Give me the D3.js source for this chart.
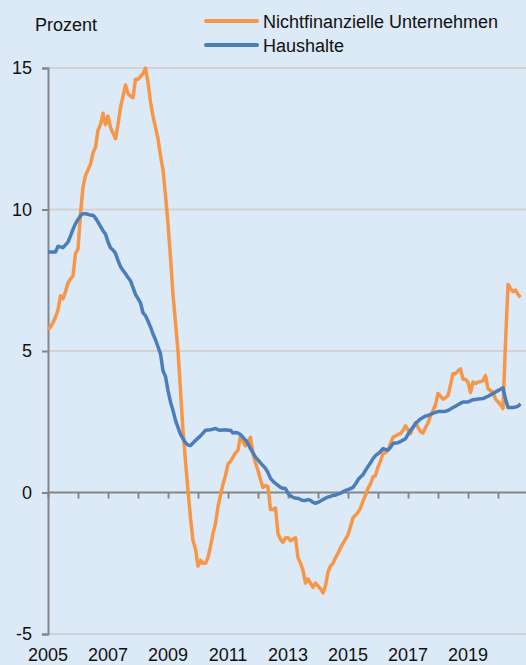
<!DOCTYPE html>
<html>
<head>
<meta charset="utf-8">
<script src="https://cdn.jsdelivr.net/npm/d3@7"></script>
<style>
  body { margin: 0; background: #dce9f7; }
  text { font-family: "Liberation Sans", Arial, sans-serif; fill: #111; }
</style>
</head>
<body>
<div id="chart"></div>
<script>
// monthly values, Jan 2005 onwards
const startYear = 2005;
const unternehmen = [
  5.75, 5.85, 6.0, 6.2, 6.45, 6.95, 6.85, 7.1, 7.4, 7.55, 7.65, 8.45,
  8.6, 9.85, 10.8, 11.2, 11.4, 11.6, 12.0, 12.2, 12.8, 13.0, 13.4, 13.0,
  13.3, 12.9, 12.7, 12.5, 13.0, 13.6, 14.0, 14.4, 14.1, 14.0, 13.95, 14.6,
  14.6, 14.7, 14.8, 15.0, 14.5, 13.8, 13.3, 12.9, 12.5, 11.9, 11.4, 10.5,
  9.5, 8.3, 7.0, 6.0, 5.0, 3.6, 2.2, 1.1, 0.07, -0.9, -1.7, -2.0,
  -2.6, -2.4, -2.5, -2.5, -2.3, -1.9, -1.45, -1.1, -0.5, -0.1, 0.3, 0.6,
  1.0, 1.1, 1.25, 1.4, 1.5, 2.0, 1.8, 1.65, 1.8, 1.95, 1.37, 1.05,
  0.78, 0.45, 0.18, 0.25, 0.2, -0.6, -0.6, -0.55, -1.45, -1.65, -1.76, -1.6,
  -1.6, -1.7, -1.65, -1.6, -2.3, -2.5, -2.75, -3.2, -3.05, -3.2, -3.35, -3.2,
  -3.3, -3.4, -3.55, -3.3, -2.8, -2.6, -2.5, -2.3, -2.15, -1.95, -1.8, -1.65,
  -1.5, -1.2, -0.9, -0.8, -0.7, -0.55, -0.3, -0.1, 0.15, 0.3, 0.55, 0.6,
  0.9, 1.1, 1.4, 1.4, 1.5, 1.73, 1.95, 2.0, 2.05, 2.08, 2.2, 2.36,
  2.2, 2.08, 2.3, 2.47, 2.3, 2.15, 2.1, 2.3, 2.45, 2.7, 2.9, 3.1,
  3.5, 3.4, 3.3, 3.35, 3.42, 3.8, 4.2, 4.2, 4.3, 4.37, 4.0, 4.0,
  3.9, 3.53, 3.9, 3.85, 3.9, 3.92, 3.95, 4.13, 3.67, 3.6, 3.55, 3.3,
  3.2, 3.1, 2.97, 5.3, 7.35, 7.2, 7.1, 7.15, 7.0, 6.9
];
const haushalte = [
  8.5, 8.5, 8.5, 8.5, 8.7, 8.68, 8.65, 8.75, 8.85, 9.07, 9.3, 9.5,
  9.65, 9.78, 9.85, 9.85, 9.83, 9.8, 9.8, 9.7, 9.55, 9.4, 9.25, 9.13,
  8.85, 8.65, 8.57, 8.45, 8.2, 7.98, 7.85, 7.73, 7.6, 7.48, 7.24, 7.0,
  6.85, 6.7, 6.35, 6.25, 6.05, 5.85, 5.6, 5.4, 5.15, 4.9, 4.3, 4.1,
  3.6, 3.2, 2.9, 2.55, 2.3, 2.05, 1.9, 1.76, 1.68, 1.66, 1.75, 1.84,
  1.92, 2.0, 2.1, 2.2, 2.21, 2.22, 2.24, 2.26, 2.22, 2.2, 2.21, 2.22,
  2.2, 2.2, 2.1, 2.12, 2.1, 2.05, 1.95, 1.85, 1.73, 1.55, 1.4, 1.25,
  1.15, 1.05, 0.95, 0.85, 0.7, 0.5, 0.4, 0.32, 0.25, 0.18, 0.15, 0.14,
  -0.03, -0.12, -0.17, -0.2, -0.2, -0.25, -0.28, -0.28, -0.25, -0.28, -0.35, -0.38,
  -0.35, -0.3, -0.25, -0.2, -0.16, -0.14, -0.1, -0.1, -0.05, -0.03, 0.03, 0.07,
  0.1, 0.14, 0.18, 0.3, 0.45, 0.55, 0.63, 0.78, 0.92, 1.05, 1.2, 1.3,
  1.37, 1.45, 1.55, 1.52, 1.5, 1.6, 1.73, 1.75, 1.76, 1.8, 1.85, 1.9,
  2.05, 2.2, 2.3, 2.43, 2.52, 2.6, 2.65, 2.7, 2.72, 2.76, 2.8, 2.83,
  2.86, 2.86, 2.86, 2.87, 2.9, 2.95, 3.0, 3.05, 3.1, 3.15, 3.2, 3.2,
  3.2, 3.24, 3.28, 3.29, 3.3, 3.31, 3.32, 3.36, 3.4, 3.45, 3.5, 3.55,
  3.6, 3.65, 3.7, 3.3, 3.0, 3.0, 3.0, 3.02, 3.05, 3.13
];
const yTicks = [-5, 0, 5, 10, 15];
const yearTicks = d3.range(2005, 2021);
const yearLabels = [2005, 2007, 2009, 2011, 2013, 2015, 2017, 2019];
const seriesNames = ["Nichtfinanzielle Unternehmen", "Haushalte"];

const width = 526, height = 665;
const margin = { top: 68, right: 526, bottom: 634, left: 48 };

const svg = d3.select('#chart')
  .append('svg')
    .attr('width', width)
    .attr('height', height);

svg.append('rect').attr('width', width).attr('height', height).attr('fill', '#dce9f7');

const x = d3.scaleLinear()
    .domain([2005, 2021])
    .range([margin.left, margin.left + 16 * 30]);

const y = d3.scaleLinear()
    .domain([-5, 15])
    .range([margin.bottom, margin.top]);

const color = d3.scaleOrdinal()
    .domain(seriesNames)
    .range(["#f79646", "#4a7ebb"]);

// gridlines
svg.append('g')
  .selectAll('line')
  .data(yTicks.filter(d => d !== 0))
  .join('line')
    .attr('x1', margin.left).attr('x2', margin.right)
    .attr('y1', d => y(d)).attr('y2', d => y(d))
    .attr('stroke', '#d3d3d3')
    .attr('stroke-width', 2);

// y axis (hyphen minus as in the original)
const yAxis = d3.axisLeft(y).tickValues(yTicks).tickSize(6).tickPadding(10)
    .tickFormat(d => String(d));
const gy = svg.append('g')
    .attr('transform', `translate(${margin.left},0)`)
    .call(yAxis);
gy.select('.domain').attr('stroke', '#868686').attr('stroke-width', 2);
gy.selectAll('.tick line').attr('stroke', '#868686').attr('stroke-width', 2);
gy.selectAll('.tick text').style('font-size', '18px').attr('fill', '#111');

// zero line with year ticks
const xAxis = d3.axisBottom(x).tickValues(yearTicks).tickSize(6).tickFormat('');
const gx = svg.append('g')
    .attr('transform', `translate(0,${y(0)})`)
    .call(xAxis);
gx.select('.domain').attr('d', `M${margin.left},0H${margin.right}`).attr('stroke', '#868686').attr('stroke-width', 2);
gx.selectAll('.tick line').attr('stroke', '#868686').attr('stroke-width', 2);

// year labels at the bottom
svg.append('g')
  .selectAll('text')
  .data(yearLabels)
  .join('text')
    .attr('x', d => x(d))
    .attr('y', 661)
    .attr('text-anchor', 'middle')
    .style('font-size', '18px')
    .text(d => d);

const line = d3.line()
    .x((d, i) => x(startYear + i / 12))
    .y(d => y(d));

[unternehmen, haushalte].forEach((values, k) => {
  svg.append('path')
      .datum(values)
      .attr('fill', 'none')
      .attr('stroke', color(seriesNames[k]))
      .attr('stroke-width', 3.5)
      .attr('stroke-linejoin', 'round')
      .attr('d', line);
});

svg.append('text').attr('x', 35).attr('y', 31).text('Prozent').style('font-size', '18px');

// legend
seriesNames.forEach((name, i) => {
  const ly = 21 + i * 24;
  svg.append('line')
      .attr('x1', 206).attr('x2', 257)
      .attr('y1', ly).attr('y2', ly)
      .attr('stroke', color(name))
      .attr('stroke-width', 4)
      .attr('stroke-linecap', 'round');
  svg.append('text')
      .attr('x', 263).attr('y', ly + 6.5)
      .text(name)
      .style('font-size', '18px');
});
</script>
</body>
</html>
